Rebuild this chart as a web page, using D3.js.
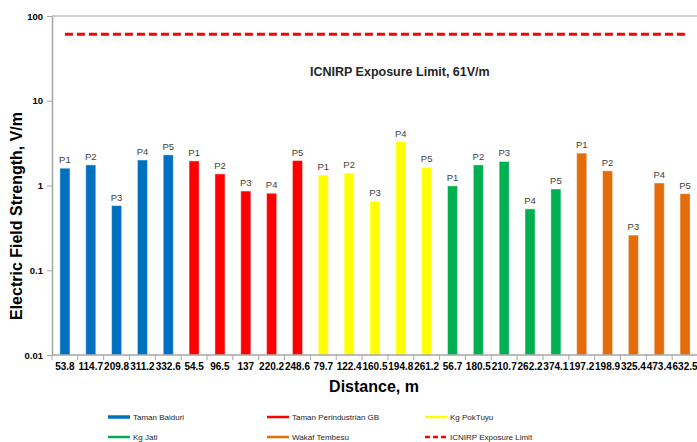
<!DOCTYPE html>
<html>
<head>
<meta charset="utf-8">
<script src="https://cdn.jsdelivr.net/npm/d3@7"></script>
<style>
  body { margin: 0; background: #fff; }
  svg { display: block; font-family: "Liberation Sans", Arial, sans-serif; }
</style>
</head>
<body>
<script>
// Data
const groups = ["Taman Baiduri", "Taman Perindustrian GB", "Kg PokTuyu", "Kg Jati", "Wakaf Tembesu"];
const groupColors = ["#0070C0", "#FF0000", "#FFFF00", "#00B050", "#E46C0A"];

const distances = ["53.8", "114.7", "209.8", "311.2", "332.6",
                   "54.5", "96.5", "137", "220.2", "248.6",
                   "79.7", "122.4", "160.5", "194.8", "261.2",
                   "56.7", "180.5", "210.7", "262.2", "374.1",
                   "197.2", "198.9", "325.4", "473.4", "632.5"];

const fieldStrength = [1.60, 1.75, 0.58, 2.00, 2.30,
                       1.95, 1.37, 0.86, 0.81, 1.97,
                       1.33, 1.40, 0.65, 3.30, 1.64,
                       0.99, 1.75, 1.92, 0.53, 0.91,
                       2.41, 1.49, 0.26, 1.07, 0.80];

const pointLabels = ["P1", "P2", "P3", "P4", "P5"];
const groupOfBar = [0,0,0,0,0, 1,1,1,1,1, 2,2,2,2,2, 3,3,3,3,3, 4,4,4,4,4];

const exposureLimit = 61;
const yTicks = [0.01, 0.1, 1, 10, 100];
const yTickLabels = ["0.01", "0.1", "1", "10", "100"];

const width = 697, height = 442;
const margin = {top: 16, right: -1, bottom: 87, left: 52};

const bars = fieldStrength.map((v, i) => ({
  i: i,
  value: v,
  dist: distances[i],
  label: pointLabels[i % 5],
  group: groupOfBar[i]
}));

const svg = d3.select("body").append("svg")
    .attr("width", width)
    .attr("height", height);

const x = d3.scaleBand()
    .domain(d3.range(bars.length))
    .range([margin.left, width - margin.right])
    .paddingInner(0.61)
    .paddingOuter(0.305);

const y = d3.scaleLog()
    .domain([0.01, 100])
    .range([height - margin.bottom, margin.top]);

// top border of plot area
svg.append("line")
    .attr("x1", margin.left)
    .attr("x2", width)
    .attr("y1", y(100))
    .attr("y2", y(100))
    .attr("stroke", "#bfbfbf")
    .attr("stroke-width", 1.5);

// bars
svg.append("g")
  .selectAll("rect")
  .data(bars)
  .join("rect")
    .attr("x", d => x(d.i))
    .attr("y", d => y(d.value))
    .attr("width", x.bandwidth())
    .attr("height", d => y(0.01) - y(d.value))
    .attr("fill", d => groupColors[d.group])
    .attr("stroke", "#fff")
    .attr("stroke-opacity", 0.45)
    .attr("stroke-width", 1);

// point labels above bars
svg.append("g")
  .selectAll("text")
  .data(bars)
  .join("text")
    .attr("x", d => x(d.i) + x.bandwidth() / 2)
    .attr("y", d => y(d.value) - 5)
    .attr("text-anchor", "middle")
    .attr("font-size", 9.5)
    .attr("fill", "#404040")
    .text(d => d.label);

// exposure limit line
const xFirst = x(0) + x.bandwidth() / 2;
const xLast = x(bars.length - 1) + x.bandwidth() / 2;
svg.append("line")
    .attr("x1", xFirst)
    .attr("x2", xLast)
    .attr("y1", y(exposureLimit))
    .attr("y2", y(exposureLimit))
    .attr("stroke", "#FF0000")
    .attr("stroke-width", 3)
    .attr("stroke-dasharray", "8,4");

svg.append("text")
    .attr("x", 310)
    .attr("y", 76)
    .attr("font-size", 12.5)
    .attr("font-weight", "bold")
    .attr("fill", "#262626")
    .text("ICNIRP Exposure Limit, " + exposureLimit + "V/m");

// y axis
const yAxis = svg.append("g")
    .attr("transform", `translate(${margin.left},0)`)
    .call(d3.axisLeft(y)
      .tickValues(yTicks)
      .tickFormat((d, i) => yTickLabels[i])
      .tickSize(5)
      .tickSizeOuter(0));
yAxis.select(".domain").attr("stroke", "#a6a6a6").attr("stroke-width", 1.5);
yAxis.selectAll(".tick line").attr("stroke", "#a6a6a6");
yAxis.selectAll(".tick text")
    .attr("font-size", 9.5)
    .attr("font-weight", "bold")
    .attr("font-family", "Liberation Sans, Arial, sans-serif")
    .attr("fill", "#000")
    .attr("x", -9);

// x axis line with ticks at category boundaries
const gap = x.step() - x.bandwidth();
const bounds = d3.range(bars.length + 1).map(i => margin.left + (x.step() * x.paddingOuter() - gap / 2) + i * x.step());
const xAxis = svg.append("g");
xAxis.append("line")
    .attr("x1", margin.left)
    .attr("x2", width)
    .attr("y1", y(0.01))
    .attr("y2", y(0.01))
    .attr("stroke", "#a6a6a6")
    .attr("stroke-width", 1.5);
xAxis.selectAll("line.tick")
  .data(bounds)
  .join("line")
    .attr("class", "tick")
    .attr("x1", d => d)
    .attr("x2", d => d)
    .attr("y1", y(0.01))
    .attr("y2", y(0.01) + 5)
    .attr("stroke", "#a6a6a6");
xAxis.selectAll("text")
  .data(bars)
  .join("text")
    .attr("x", d => x(d.i) + x.bandwidth() / 2)
    .attr("y", 370)
    .attr("text-anchor", "middle")
    .attr("font-size", 10)
    .attr("font-weight", "bold")
    .attr("fill", "#000")
    .text(d => d.dist);

// axis titles
svg.append("text")
    .attr("x", 374)
    .attr("y", 392)
    .attr("text-anchor", "middle")
    .attr("font-size", 16)
    .attr("font-weight", "bold")
    .text("Distance, m");

svg.append("text")
    .attr("transform", "translate(22,216) rotate(-90)")
    .attr("text-anchor", "middle")
    .attr("font-size", 16)
    .attr("font-weight", "bold")
    .text("Electric Field Strength, V/m");

// legend
const legendItems = groups.map((g, i) => ({name: g, color: groupColors[i], dashed: false}))
  .concat([{name: "ICNIRP Exposure Limit", color: "#FF0000", dashed: true}]);
const legendCols = [108, 267, 425];
const legendRows = [417, 437];

const legend = svg.append("g")
  .selectAll("g")
  .data(legendItems)
  .join("g")
    .attr("transform", (d, i) => `translate(${legendCols[i % 3]},${legendRows[Math.floor(i / 3)]})`);
legend.append("line")
    .attr("x1", 0)
    .attr("x2", 22)
    .attr("stroke", d => d.color)
    .attr("stroke-width", (d, i) => i === 0 ? 3.5 : 2.5)
    .attr("stroke-dasharray", d => d.dashed ? "5,3" : null);
legend.append("text")
    .attr("x", 25)
    .attr("dy", "0.35em")
    .attr("font-size", 8)
    .attr("fill", "#262626")
    .text(d => d.name);
</script>
</body>
</html>
